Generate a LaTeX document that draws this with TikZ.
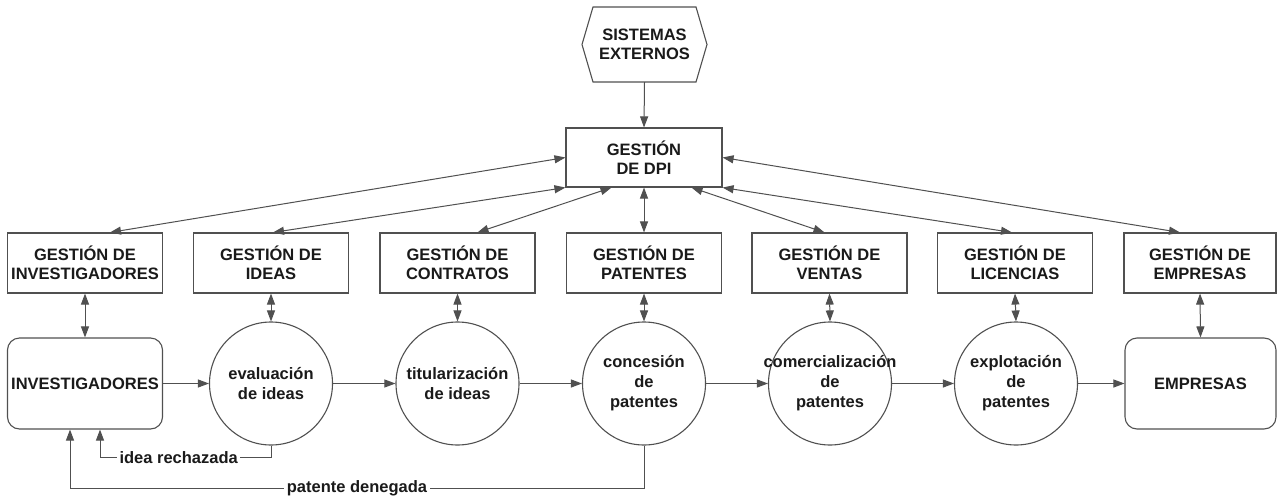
\documentclass[tikz,border=0pt]{standalone}
\usepackage{fontspec}
\setmainfont{Liberation Sans}
\usetikzlibrary{arrows.meta,calc}
\definecolor{ln}{HTML}{505050}
\definecolor{tx}{HTML}{1A1A1A}
\begin{document}
\begin{tikzpicture}[x=1pt,y=-1pt,
  font=\fontsize{16.5}{18.5}\selectfont\bfseries,
  box/.style={draw=ln,line width=1.1pt,minimum width=155pt,minimum height=60pt,inner sep=0pt,align=center,text=tx},
  circ/.style={draw=ln,line width=1.1pt,circle,minimum size=123pt,inner sep=0pt},
  ctext/.style={align=center,text=tx,inner sep=0pt,font=\fontsize{16.5}{20}\selectfont\bfseries},
  ent/.style={draw=ln,line width=1.1pt,rounded corners=12pt,minimum width=155pt,minimum height=91pt,inner sep=0pt,align=center,text=tx},
  arr/.style={draw=ln,line width=1pt,-{Triangle[length=11pt,width=8pt]}},
  darr/.style={draw=ln,line width=1pt,{Triangle[length=11pt,width=8pt]}-{Triangle[length=11pt,width=8pt]}},
  lab/.style={fill=white,inner sep=2.5pt,text=tx}
]
\useasboundingbox[fill=white] (0,0) rectangle (1277,498);

% hexagon
\draw[ln,line width=1.1pt] (582,44.5)--(593,7)--(696,7)--(707,44.5)--(696,82)--(593,82)--cycle;
\node[draw=none,minimum width=125pt,minimum height=75pt,inner sep=0pt,align=center,text=tx] (sis) at (644.5,44.5) {SISTEMAS\\EXTERNOS};

\node[box,minimum width=156pt,minimum height=59pt] (dpi) at (644,157.5) {GESTIÓN\\DE DPI};

\node[box] (g1) at (85,263) {GESTIÓN DE\\INVESTIGADORES};
\node[box] (g2) at (271,263) {GESTIÓN DE\\IDEAS};
\node[box] (g3) at (457.5,263) {GESTIÓN DE\\CONTRATOS};
\node[box] (g4) at (644,263) {GESTIÓN DE\\PATENTES};
\node[box] (g5) at (829.5,263) {GESTIÓN DE\\VENTAS};
\node[box] (g6) at (1015,263) {GESTIÓN DE\\LICENCIAS};
\node[box,minimum width=152pt] (g7) at (1200,263) {GESTIÓN DE\\EMPRESAS};

\node[ent] (inv) at (85,383.5) {INVESTIGADORES};
\node[circ] (c1) at (271,383.5) {};
\node[ctext] (t1) at (c1) {evaluación\\de ideas};
\node[circ] (c2) at (457.5,383.5) {};
\node[ctext] (t2) at (c2) {titularización\\de ideas};
\node[circ] (c3) at (644,383.5) {};
\node[ctext] (t3) at (c3) {concesión\\de\\patentes};
\node[circ] (c4) at (830,383.5) {};
\node[ctext] (t4) at (c4) {comercialización\\de\\patentes};
\node[circ] (c5) at (1016,383.5) {};
\node[ctext] (t5) at (c5) {explotación\\de\\patentes};
\node[ent,minimum width=151pt] (emp) at (1200.5,383.5) {EMPRESAS};

% top connectors
\draw[arr] (sis.south) -- (dpi.north);
\draw[darr] (dpi.west) -- ($(g1.north)+(25,0)$);
\draw[darr] (dpi.south west) -- ($(g2.north)+(2,0)$);
\draw[darr] ($(dpi.south west)+(46,0)$) -- ($(g3.north)+(20,0)$);
\draw[darr] (dpi.south) -- (g4.north);
\draw[darr] ($(dpi.south east)+(-31,0)$) -- ($(g5.north)+(-5,0)$);
\draw[darr] (dpi.south east) -- ($(g6.north)+(-3,0)$);
\draw[darr] (dpi.east) -- ($(g7.north)+(-20,0)$);

% vertical double arrows
\draw[darr] (g1.south) -- (inv.north);
\draw[darr] (g2.south) -- (c1.north);
\draw[darr] (g3.south) -- (c2.north);
\draw[darr] (g4.south) -- (c3.north);
\draw[darr] (g5.south) -- (c4.north);
\draw[darr] (g6.south) -- (c5.north);
\draw[darr] (g7.south) -- (emp.north);

% flow
\draw[arr] (inv.east) -- (c1.west);
\draw[arr] (c1.east) -- (c2.west);
\draw[arr] (c2.east) -- (c3.west);
\draw[arr] (c3.east) -- (c4.west);
\draw[arr] (c4.east) -- (c5.west);
\draw[arr] (c5.east) -- (emp.west);

% feedback
\coordinate (f1) at ($(inv.south)+(15,0)$);
\coordinate (f2) at ($(inv.south)+(-15,0)$);
\draw[arr] (c1.south) |- node[lab,pos=0.77] {idea rechazada} ($(f1)+(0,28)$) -- (f1);
\draw[arr] (c3.south) |- node[lab,pos=0.75] {patente denegada} ($(f2)+(0,59)$) -- (f2);
\end{tikzpicture}
\end{document}
